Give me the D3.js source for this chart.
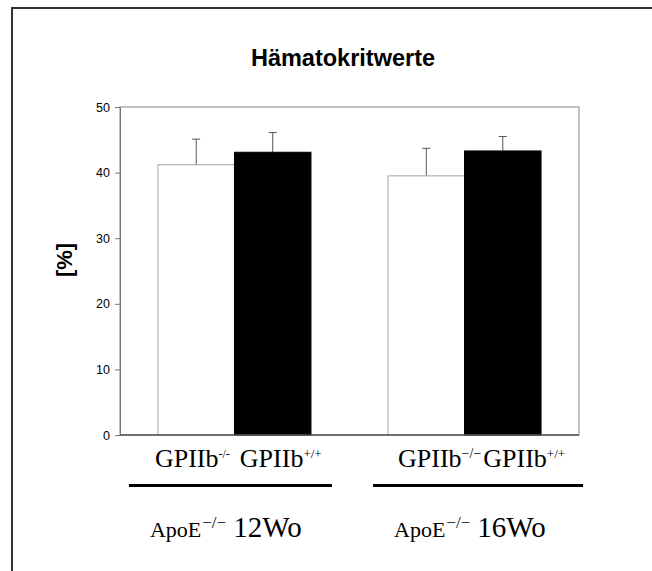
<!DOCTYPE html>
<html>
<head>
<meta charset="utf-8">
<script src="https://cdn.jsdelivr.net/npm/d3@7/dist/d3.min.js"></script>
<style>
  body { margin: 0; background: #fff; }
  svg { display: block; }
</style>
</head>
<body>
<div id="chart-container"></div>
<script>
/**************************************************
 * Data
 **************************************************/
const groups = ["12Wo", "16Wo"];          // ApoE-/- age groups
const genotypes = ["-/-", "+/+"];         // GPIIb genotype
const valuesKO = [41.2, 39.5];            // GPIIb-/- hematocrit [%]
const valuesWT = [43.1, 43.3];            // GPIIb+/+ hematocrit [%]
const errorsKO = [3.9, 4.2];
const errorsWT = [3.0, 2.2];
const yTicks = [0, 10, 20, 30, 40, 50];
const titleText = "Hämatokritwerte";
const yTitle = "[%]";

/**************************************************
 * Rendering
 **************************************************/
function renderChart() {
  const width = 652, height = 571;
  const svg = d3.select("#chart-container")
    .append("svg")
    .attr("width", width)
    .attr("height", height);

  // outer frame (top + left only visible)
  svg.append("path")
    .attr("d", `M12,${height} L12,8 L${width},8`)
    .attr("fill", "none")
    .attr("stroke", "#333")
    .attr("stroke-width", 2);

  const plot = { left: 120, right: 579, top: 107, bottom: 435 };

  const x0 = d3.scaleBand()
    .domain(groups)
    .range([plot.left, plot.right])
    .paddingInner(0.335)
    .paddingOuter(0.165);

  const x1 = d3.scaleBand()
    .domain(genotypes)
    .range([0, x0.bandwidth()]);

  const y = d3.scaleLinear()
    .domain([0, 50])
    .range([plot.bottom, plot.top]);

  const rows = [];
  groups.forEach((g, i) => {
    rows.push({ group: g, geno: "-/-", value: valuesKO[i], err: errorsKO[i] });
    rows.push({ group: g, geno: "+/+", value: valuesWT[i], err: errorsWT[i] });
  });

  // plot box
  svg.append("rect")
    .attr("x", plot.left)
    .attr("y", plot.top)
    .attr("width", plot.right - plot.left)
    .attr("height", plot.bottom - plot.top)
    .attr("fill", "none")
    .attr("stroke", "#858585")
    .attr("stroke-width", 1);

  // error bars
  rows.forEach(d => {
    const cx = x0(d.group) + x1(d.geno) + x1.bandwidth() / 2;
    svg.append("line")
      .attr("x1", cx).attr("x2", cx)
      .attr("y1", y(d.value)).attr("y2", y(d.value + d.err))
      .attr("stroke", "#555").attr("stroke-width", 1);
    svg.append("line")
      .attr("x1", cx - 4).attr("x2", cx + 4)
      .attr("y1", y(d.value + d.err)).attr("y2", y(d.value + d.err))
      .attr("stroke", "#555").attr("stroke-width", 1);
  });

  // bars
  svg.selectAll(".bar")
    .data(rows)
    .enter()
    .append("rect")
    .attr("class", "bar")
    .attr("x", d => x0(d.group) + x1(d.geno))
    .attr("y", d => y(d.value))
    .attr("width", x1.bandwidth())
    .attr("height", d => y(0) - y(d.value))
    .attr("fill", d => d.geno === "-/-" ? "#fff" : "#000")
    .attr("stroke", d => d.geno === "-/-" ? "#a0a0a0" : "#000")
    .attr("stroke-width", 1);

  // y axis
  const yAxis = svg.append("g")
    .attr("transform", `translate(${plot.left},0)`)
    .call(d3.axisLeft(y).tickValues(yTicks).tickSize(5).tickSizeOuter(0).tickPadding(5));
  yAxis.select(".domain").attr("stroke", "#777");
  yAxis.selectAll(".tick line").attr("stroke", "#777");
  yAxis.selectAll(".tick text")
    .attr("font-family", "Liberation Sans, Arial, sans-serif")
    .attr("font-size", "12.5px")
    .attr("fill", "#000");

  // baseline
  svg.append("line")
    .attr("x1", plot.left).attr("x2", plot.right)
    .attr("y1", plot.bottom).attr("y2", plot.bottom)
    .attr("stroke", "#555").attr("stroke-width", 1.5);

  // title
  svg.append("text")
    .attr("x", 343)
    .attr("y", 66)
    .attr("text-anchor", "middle")
    .attr("font-family", "Liberation Sans, Arial, sans-serif")
    .attr("font-weight", "bold")
    .attr("font-size", "23.5px")
    .text(titleText);

  // y title
  svg.append("text")
    .attr("transform", "translate(72,260) rotate(-90)")
    .attr("text-anchor", "middle")
    .attr("font-family", "Liberation Sans, Arial, sans-serif")
    .attr("font-weight", "bold")
    .attr("font-size", "22px")
    .text(yTitle);

  // group labels under the axis
  const serif = "Liberation Serif, Times New Roman, serif";
  const labelOffsets = [
    { geno: -3, gap: 10, line: [-29, 21], apo: -8, supKO: "-/-", supSize: 12 },
    { geno: 10, gap: 2, line: [-15, 42], apo: 6, supKO: "\u2212/\u2212", supSize: 14 }
  ];

  groups.forEach((g, i) => {
    const left = x0(g);
    const right = left + x0.bandwidth();
    const o = labelOffsets[i];

    const t = svg.append("text")
      .attr("x", left + o.geno)
      .attr("y", 467)
      .attr("font-family", serif)
      .attr("font-size", "26px");
    t.append("tspan").text("GPIIb");
    t.append("tspan").attr("font-size", o.supSize + "px").attr("dy", -9).text(o.supKO);
    t.append("tspan").attr("dy", 9).attr("dx", o.gap).text("GPIIb");
    t.append("tspan").attr("font-size", "13px").attr("dy", -9).text(genotypes[1]);

    svg.append("line")
      .attr("x1", left + o.line[0])
      .attr("x2", right + o.line[1])
      .attr("y1", 485.5).attr("y2", 485.5)
      .attr("stroke", "#000").attr("stroke-width", 3);

    const a = svg.append("text")
      .attr("x", left + o.apo)
      .attr("y", 537)
      .attr("font-family", serif)
      .attr("font-size", "22px");
    a.append("tspan").text("ApoE");
    a.append("tspan").attr("font-size", "17px").attr("dy", -9).attr("dx", 1).text("\u2212/\u2212");
    a.append("tspan").attr("font-size", "29px").attr("dy", 9).attr("dx", 7).text(g);
  });
}

renderChart();
</script>
</body>
</html>
